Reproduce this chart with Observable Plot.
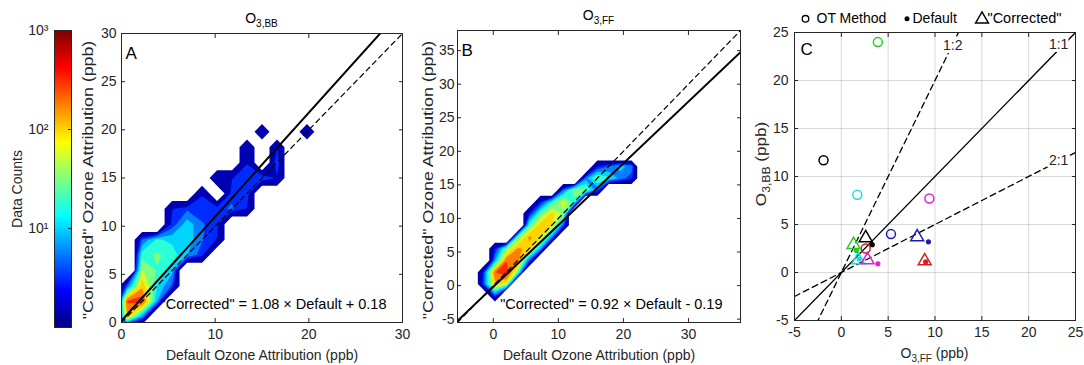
<!DOCTYPE html>
<html>
<head>
<meta charset="utf-8">
<script src="https://cdn.jsdelivr.net/npm/d3@7"></script>
<script src="https://cdn.jsdelivr.net/npm/@observablehq/plot@0.6"></script>
<style>
  html, body { margin: 0; padding: 0; background: #fff; }
  #fig { position: relative; width: 1084px; height: 365px; overflow: hidden; background: #fff; }
  #fig > svg { position: absolute; left: 0; top: 0; }
</style>
</head>
<body>
<div id="fig"></div>
<script>
// ================= DATA =================
// colour bar (log10 of data counts, jet colormap)
const colorbarTicks = [10, 100, 1000];
const colorbarTickLabels = ["10¹", "10²", "10³"];
const countRange = [1, 1000];
const jetStops = [0, 0.125, 0.375, 0.625, 0.875, 1];
const jetColors = ["#000080", "#0000ff", "#00ffff", "#ffff00", "#ff0000", "#800000"];
const contourLevels = [0.15, 0.5, 0.75, 1.0, 1.25, 1.5, 1.75, 2.0, 2.25, 2.5, 2.75]; // log10(count)
const emptyCellLevel = -1;

// Panel A: O3,BB – 2-D histogram counts (rows: y bins bottom->top, cols: x bins)
const binsA = [0.6, 2.2, 3.8, 5.4, 7.0, 8.6, 10.2, 11.8, 13.4, 15.0, 16.6, 18.2, 19.8, 21.4];
const countsA = [
  [150,  8,   0,  0,  0,  0, 0, 0, 0, 0, 0, 0, 0, 0],
  [350, 450, 10,  0,  0,  0, 0, 0, 0, 0, 0, 0, 0, 0],
  [  6, 150, 18,  5,  0,  0, 0, 0, 0, 0, 0, 0, 0, 0],
  [  0,  60, 30, 12,  0,  0, 0, 0, 0, 0, 0, 0, 0, 0],
  [  0,  25, 35, 25, 10,  4, 0, 0, 0, 0, 0, 0, 0, 0],
  [  0,   6, 20, 15, 15,  6, 3, 0, 0, 0, 0, 0, 0, 0],
  [  0,   0,  0,  4, 14,  6, 4, 0, 0, 0, 0, 0, 0, 0],
  [  0,   0,  0,  3,  5,  4, 5, 6, 3, 0, 0, 0, 0, 0],
  [  0,   0,  0,  0,  0,  3, 0, 5, 5, 0, 0, 0, 0, 0],
  [  0,   0,  0,  0,  0,  0, 3, 3, 5, 6, 3, 0, 0, 0],
  [  0,   0,  0,  0,  0,  0, 0, 0, 3, 0, 6, 0, 0, 0],
  [  0,   0,  0,  0,  0,  0, 0, 0, 3, 0, 3, 0, 0, 0],
  [  0,   0,  0,  0,  0,  0, 0, 0, 0, 3, 0, 0, 3, 0],
  [  0,   0,  0,  0,  0,  0, 0, 0, 0, 0, 0, 0, 0, 0]
];
// Panel B: O3,FF
const binsB = [-1.5, 0.25, 2.0, 3.75, 5.5, 7.25, 9.0, 10.75, 12.5, 14.25, 16.0, 17.75, 19.5, 21.25];
const countsB = [
  [0,   5,   0,   0,   0,   0,   0,  0,  0,  0,  0,  0,  0, 0],
  [5, 150,  80,   0,   0,   0,   0,  0,  0,  0,  0,  0,  0, 0],
  [4, 300, 600,  40,   0,   0,   0,  0,  0,  0,  0,  0,  0, 0],
  [0,  10, 300, 250,   6,   0,   0,  0,  0,  0,  0,  0,  0, 0],
  [0,   3,  40, 200, 150,  10,   0,  0,  0,  0,  0,  0,  0, 0],
  [0,   0,   0,  30, 200, 120,   8,  0,  0,  0,  0,  0,  0, 0],
  [0,   0,   0,   0,  25, 150, 100,  6,  0,  0,  0,  0,  0, 0],
  [0,   0,   0,   0,   3,  30, 120, 50,  0,  0,  0,  0,  0, 0],
  [0,   0,   0,   0,   0,   3,  20, 80, 25,  0,  0,  0,  0, 0],
  [0,   0,   0,   0,   0,   0,   0,  6, 50, 40,  6,  0,  0, 0],
  [0,   0,   0,   0,   0,   0,   0,  0,  0,  8, 40, 20,  8, 4],
  [0,   0,   0,   0,   0,   0,   0,  0,  0,  0,  3,  6, 12, 8],
  [0,   0,   0,   0,   0,   0,   0,  0,  0,  0,  0,  0,  0, 0],
  [0,   0,   0,   0,   0,   0,   0,  0,  0,  0,  0,  0,  0, 0]
];
// regression fits ("Corrected" = slope × Default + intercept), panels A, B
const fitSlopes = [1.08, 0.92];
const fitIntercepts = [0.18, -0.19];
const ticksA = [0, 10, 20, 30];
const yTicksA = [0, 5, 10, 15, 20, 25, 30];
const ticksB = [0, 10, 20, 30];
const yTicksB = [-5, 0, 5, 10, 15, 20, 25, 30, 35];
const domainA = [0, 30];
const domainB = [-5.5, 38];

// Panel C
const ticksC = [-5, 0, 5, 10, 15, 20, 25];
const domainC = [-5, 25];
const seriesColors = ["#000000", "#22cc22", "#22dddd", "#dd22dd", "#1c1cb0", "#dd1c1c"];
const otX  = [-1.9, 3.9, 1.7, 9.4, 5.3, 2.6];
const otY  = [11.7, 24.0, 8.1, 7.7, 4.0, 2.5];
const defX = [3.3, 1.6, 1.9, 3.9, 9.3, 9.0];
const defY = [2.9, 2.3, 1.4, 0.9, 3.2, 1.1];
const corX = [2.6, 1.3, 1.8, 2.8, 8.1, 8.9];
const corY = [3.6, 2.9, 1.3, 1.3, 3.7, 1.2];
const refSlopes = [2, 1, 0.5];
const refNames = ["1:2", "1:1", "2:1"];
const refDashed = [true, false, true];
const refLabelX = [11.9, 23.2, 23.2];
const refLabelY = [23.65, 23.8, 11.7];
const legendNames = ["OT Method", "Default", "\"Corrected\""];

// ================= RENDER =================
const W = 1084, H = 365;
const FONT = '"Liberation Sans", Arial, Helvetica, sans-serif';
const INK = "#262626";
const fig = document.getElementById("fig");

const jetScale = {type: "linear", domain: jetStops.map(t => t * Math.log10(countRange[1])), range: jetColors, interpolate: "rgb", clamp: true};
const baseStyle = {fontFamily: FONT, fontSize: "14px", color: INK, background: "transparent", overflow: "visible"};

function gridFrom(bins, counts) {
  const h = bins[1] - bins[0];
  const n = bins.length + 2;
  const blank = new Array(bins.length).fill(0);
  const rows = [blank, ...counts, blank];
  const values = [];
  for (const row of rows) for (const c of [0, ...row, 0]) values.push(c > 0 ? Math.log10(c) : emptyCellLevel);
  const lo = bins[0] - 1.5 * h;
  return {values, width: n, height: rows.length, x1: lo, x2: lo + n * h, y1: lo, y2: lo + rows.length * h};
}

function boxAxes(xt, yt, xPad, yPad) {
  const fmt = d => String(d);
  return [
    Plot.axisX(xt, {anchor: "bottom", tickSize: 0, tickPadding: xPad, fontSize: 14, tickFormat: fmt, label: null}),
    Plot.axisY(yt, {anchor: "left", tickSize: 0, tickPadding: yPad, fontSize: 14, tickFormat: fmt, label: null}),
    Plot.axisX(xt, {anchor: "bottom", tickSize: -4, fill: "none", label: null}),
    Plot.axisX(xt, {anchor: "top", tickSize: -4, fill: "none", label: null}),
    Plot.axisY(yt, {anchor: "left", tickSize: -4, fill: "none", label: null}),
    Plot.axisY(yt, {anchor: "right", tickSize: -4, fill: "none", label: null})
  ];
}

function histPanel({frame, domain, bins, counts, fit, xt, yt, yPad, letter, letterDy, eqDx}) {
  const g = gridFrom(bins, counts);
  const grid = {width: g.width, height: g.height, x1: g.x1, x2: g.x2, y1: g.y1, y2: g.y2, fill: Plot.identity, clip: true};
  const slope = fitSlopes[fit], icpt = fitIntercepts[fit];
  const fitLine = domain.map(x => [x, slope * x + icpt]);
  const oneToOne = domain.map(x => [x, x]);
  const eq = `"Corrected" = ${slope.toFixed(2)} \u00d7 Default ${icpt < 0 ? "-" : "+"} ${Math.abs(icpt).toFixed(2)}`;
  return Plot.plot({
    width: W, height: H,
    marginLeft: frame[0], marginRight: W - frame[1], marginTop: frame[2], marginBottom: H - frame[3],
    x: {domain, label: null}, y: {domain, label: null},
    color: jetScale,
    style: baseStyle,
    marks: [
      // outer envelope: unsmoothed (boundary halfway between occupied and empty bins)
      Plot.contour(g.values, {...grid, thresholds: contourLevels.slice(0, 1), smooth: false}),
      // inner filled levels
      Plot.contour(g.values, {...grid, thresholds: contourLevels.slice(1)}),
      Plot.line(oneToOne, {stroke: "#000", strokeWidth: 1.2, strokeDasharray: "5,4", clip: true}),
      Plot.line(fitLine, {stroke: "#000", strokeWidth: 2, clip: true}),
      Plot.frame({stroke: INK, strokeWidth: 1}),
      ...boxAxes(xt, yt, 7, yPad),
      Plot.text([letter], {text: d => d, frameAnchor: "top-left", dx: 4, dy: letterDy, lineAnchor: "top", fontSize: 17, fill: "#000"}),
      Plot.text([eq], {text: d => d, frameAnchor: "bottom-right", dx: eqDx, dy: -18, textAnchor: "end", lineAnchor: "middle", fontSize: 14.5, fill: "#000"}),
      Plot.text(["Default Ozone Attribution (ppb)"], {text: d => d, frameAnchor: "bottom", dy: 33, lineAnchor: "middle", fontSize: 14, fill: INK})
    ]
  });
}

// ---- colour bar ----
const cbar = Plot.plot({
  width: W, height: H,
  marginLeft: 54, marginRight: W - 71, marginTop: 30, marginBottom: H - 327,
  x: {domain: [0, 1], axis: null},
  y: {type: "log", domain: countRange, axis: null},
  color: jetScale,
  style: baseStyle,
  marks: [
    Plot.raster({x1: 0, x2: 1, y1: countRange[0], y2: countRange[1], fill: (x, y) => Math.log10(y), pixelSize: 1}),
    Plot.frame({stroke: INK, strokeWidth: 1}),
    Plot.axisY(colorbarTicks, {anchor: "left", tickSize: 0, tickPadding: 6, fontSize: 14,
      tickFormat: d => colorbarTickLabels[colorbarTicks.indexOf(d)], label: null}),
    Plot.axisY(colorbarTicks.slice(0, 2), {anchor: "right", tickSize: -4, fill: "none", label: null}),
    Plot.text(["Data Counts"], {text: d => d, frameAnchor: "left", dx: -37, dy: 10, rotate: -90, textAnchor: "middle", lineAnchor: "middle", fontSize: 14, fill: INK})
  ]
});

const panelA = histPanel({frame: [121, 402, 33, 322], domain: domainA, bins: binsA, counts: countsA, fit: 0,
  xt: ticksA, yt: yTicksA, yPad: 5, letter: "A", letterDy: 13, eqDx: -16});
const panelB = histPanel({frame: [457, 740, 30, 322], domain: domainB, bins: binsB, counts: countsB, fit: 1,
  xt: ticksB, yt: yTicksB, yPad: 3, letter: "B", letterDy: 13, eqDx: -18});

// ---- panel C ----
const refMarks = refSlopes.map((k, i) => Plot.line(domainC.map(x => [x, k * x]), {
  stroke: "#000", strokeWidth: 1.3, strokeDasharray: refDashed[i] ? "6,4" : null, clip: true}));
const idx = seriesColors.map((c, i) => i);
const panelC = Plot.plot({
  width: W, height: H,
  marginLeft: 794, marginRight: W - 1075, marginTop: 32, marginBottom: H - 320,
  x: {domain: domainC, label: null}, y: {domain: domainC, label: null},
  color: {type: "identity"},
  style: baseStyle,
  marks: [
    Plot.gridX(ticksC, {stroke: "#000", strokeOpacity: 0.15, strokeWidth: 1}),
    Plot.gridY(ticksC, {stroke: "#000", strokeOpacity: 0.15, strokeWidth: 1}),
    ...refMarks,
    Plot.text(refNames, {x: (d, i) => refLabelX[i], y: (d, i) => refLabelY[i], text: d => d, fontSize: 14,
      fill: INK, stroke: "white", strokeWidth: 6}),
    Plot.dot(idx, {x: i => otX[i], y: i => otY[i], stroke: i => seriesColors[i], symbol: "circle", r: 4.5, strokeWidth: 1.5}),
    Plot.dot(idx, {x: i => corX[i], y: i => corY[i], stroke: i => seriesColors[i], symbol: "triangle", r: 4.8, strokeWidth: 1.5}),
    Plot.dot(idx, {x: i => defX[i], y: i => defY[i], fill: i => seriesColors[i], r: 2.6}),
    Plot.frame({stroke: INK, strokeWidth: 1}),
    ...boxAxes(ticksC, ticksC, 7, 6),
    Plot.text(["C"], {text: d => d, frameAnchor: "top-left", dx: 6, dy: 10, lineAnchor: "top", fontSize: 17, fill: "#000"}),
    // legend
    Plot.dot([0], {frameAnchor: "top-left", dx: 11, dy: -13.7, symbol: "circle", r: 3.3, stroke: "#000", strokeWidth: 1.3}),
    Plot.dot([0], {frameAnchor: "top-left", dx: 112.5, dy: -13.7, r: 2.5, fill: "#000"}),
    Plot.dot([0], {frameAnchor: "top-left", dx: 187.5, dy: -13.2, symbol: "triangle", r: 4.8, stroke: "#000", strokeWidth: 1.4}),
    Plot.text([legendNames[0]], {text: d => d, frameAnchor: "top-left", dx: 22, dy: -13.7, textAnchor: "start", lineAnchor: "middle", fontSize: 14, fill: "#000"}),
    Plot.text([legendNames[1]], {text: d => d, frameAnchor: "top-left", dx: 118, dy: -13.7, textAnchor: "start", lineAnchor: "middle", fontSize: 14, fill: "#000"}),
    Plot.text([legendNames[2]], {text: d => d, frameAnchor: "top-left", dx: 193, dy: -13.7, textAnchor: "start", lineAnchor: "middle", fontSize: 14.5, fill: "#000"})
  ]
});

for (const p of [cbar, panelA, panelB, panelC]) fig.appendChild(p);

// ---- titles / labels needing subscripts or a stretched rotated layout ----
const ov = d3.create("svg").attr("width", W).attr("height", H).attr("font-family", FONT);
function label(x, y, parts, {rotate = 0, stretch = 1, size = 14, color = INK} = {}) {
  const t = ov.append("text").attr("text-anchor", "middle").attr("font-size", size).attr("fill", color)
    .attr("transform", `translate(${x},${y})` + (rotate ? ` rotate(${rotate})` : "") + (stretch !== 1 ? ` scale(${stretch},1)` : ""));
  let shift = 0;
  for (const [txt, sub] of parts) {
    const want = sub ? size * 0.3 : 0;
    const s = t.append("tspan").text(txt).attr("dy", want - shift);
    if (sub) s.attr("font-size", Math.round(size * 0.72));
    shift = want;
  }
}
const yTitle = "\"Corrected\" Ozone Attribution (ppb)";
label(261.5, 23, [["O"], ["3,BB", true]], {color: "#000"});
label(598.5, 20, [["O"], ["3,FF", true]], {color: "#000"});
label(934.5, 358, [["O"], ["3,FF", true], [" (ppb)"]]);
label(766, 164, [["O"], ["3,BB", true], [" (ppb)"]], {rotate: -90, stretch: 1.22});
label(92.5, 180, [[yTitle]], {rotate: -90, stretch: 1.27});
label(432.5, 180, [[yTitle]], {rotate: -90, stretch: 1.27});
fig.appendChild(ov.node());
</script>
</body>
</html>
